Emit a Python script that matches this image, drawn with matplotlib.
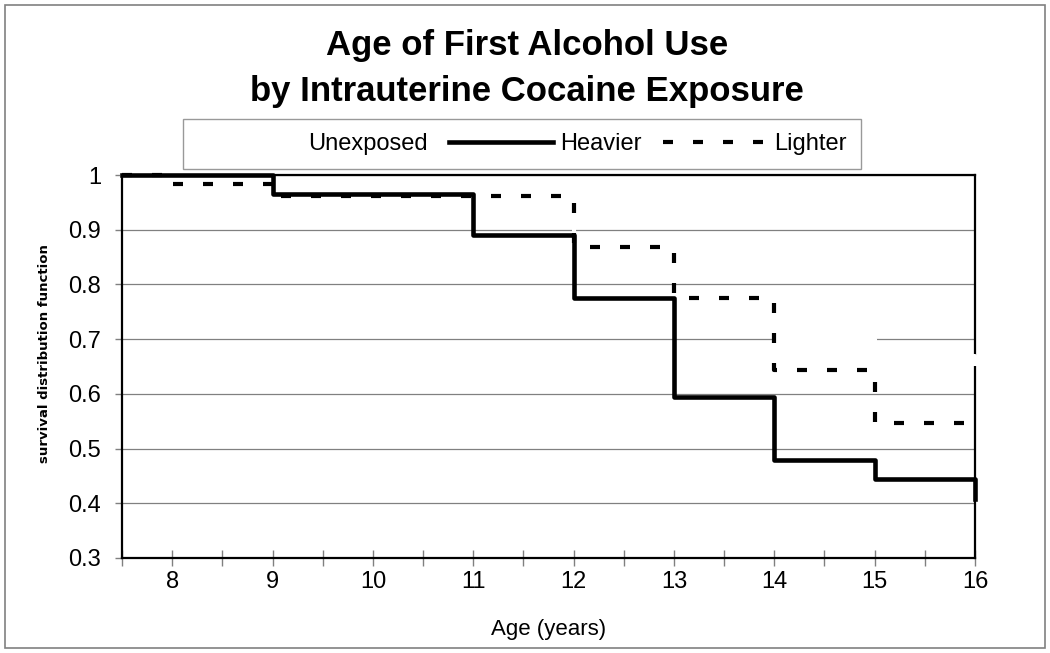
import numpy as np
import matplotlib
matplotlib.use('Agg')
import matplotlib.pyplot as plt
from matplotlib.patches import Rectangle
from matplotlib.ticker import FuncFormatter, MultipleLocator

plt.rcParams['font.family'] = ['Liberation Sans', 'DejaVu Sans']

#%% data (survival steps, steps-post)
age = [7.5, 9, 11, 12, 13, 14, 15, 16]
unexposed = [1.0, 0.985, 0.95, 0.87, 0.79, 0.70, 0.67, 0.655]
heavier = [1.0, 0.965, 0.89, 0.775, 0.595, 0.48, 0.445, 0.408]

age_light = [7.5, 8, 9, 12, 13, 14, 15, 16]
lighter = [1.0, 0.984, 0.962, 0.868, 0.775, 0.644, 0.547, 0.547]

xticks = np.arange(8, 17, 1)
yticks = np.arange(0.3, 1.01, 0.1)

#%% figure
fig = plt.figure(figsize=(10.5, 6.53), dpi=100)
ax = fig.add_axes([122/1050, 1-558/653, (975-122)/1050, (558-175)/653])

ax.set_xlim(7.5, 16)
ax.set_ylim(0.3, 1.0)
ax.set_yticks(yticks)
ax.set_xticks(xticks)
ax.xaxis.set_minor_locator(MultipleLocator(0.5))
ax.yaxis.set_major_formatter(FuncFormatter(lambda v, p: '%g' % round(v, 2)))
ax.grid(axis='y', color='#808080', lw=0.9, zorder=0)
ax.set_axisbelow(True)

for s in ax.spines.values():
    s.set_linewidth(1.6)
    s.set_color('black')

ax.tick_params(axis='y', direction='out', length=5, color='#808080', width=1,
               labelsize=17, pad=10)
ax.tick_params(axis='x', which='both', direction='inout', length=11,
               color='#808080', width=1, labelsize=17, pad=4)
ax.tick_params(axis='x', which='minor', labelbottom=False)

l0, = ax.plot(age, unexposed, drawstyle='steps-post', color='white', lw=2.9,
              zorder=3, clip_on=False, label='Unexposed')
l1, = ax.plot(age, heavier, drawstyle='steps-post', color='black', lw=3.3,
              zorder=4, clip_on=False, label='Heavier')
l2, = ax.plot(age_light, lighter, drawstyle='steps-post', color='black', lw=3.0,
              linestyle=(0, (2.4, 4.8)), zorder=4, clip_on=False, label='Lighter')

ax.set_xlabel('Age (years)', fontsize=16)
ax.xaxis.set_label_coords(0.5, -0.158)
ax.set_ylabel('survival distribution function', fontsize=9.5, fontweight='bold',
              family='DejaVu Sans')
ax.yaxis.set_label_coords(-0.083, 0.535)

fig.text(0.502, 1-45/653, 'Age of First Alcohol Use', ha='center', va='center',
         fontsize=25, fontweight='bold')
fig.text(0.502, 1-92/653, 'by Intrauterine Cocaine Exposure', ha='center',
         va='center', fontsize=25, fontweight='bold')

leg = fig.legend(handles=[l0, l1, l2], ncol=3, loc='center',
                 bbox_to_anchor=(522/1050, 1-144/653), fontsize=17,
                 frameon=True, fancybox=False, handlelength=4.4,
                 handletextpad=0.3, columnspacing=0.9, borderpad=0.6,
                 borderaxespad=0)
leg.get_frame().set_edgecolor('#808080')
leg.get_frame().set_linewidth(1)

fig.patches.append(Rectangle((5/1050, 5/653), 1040/1050, 643/653,
                             transform=fig.transFigure, fill=False,
                             edgecolor='#808080', lw=1.2))

fig.savefig('out.png', dpi=100)
